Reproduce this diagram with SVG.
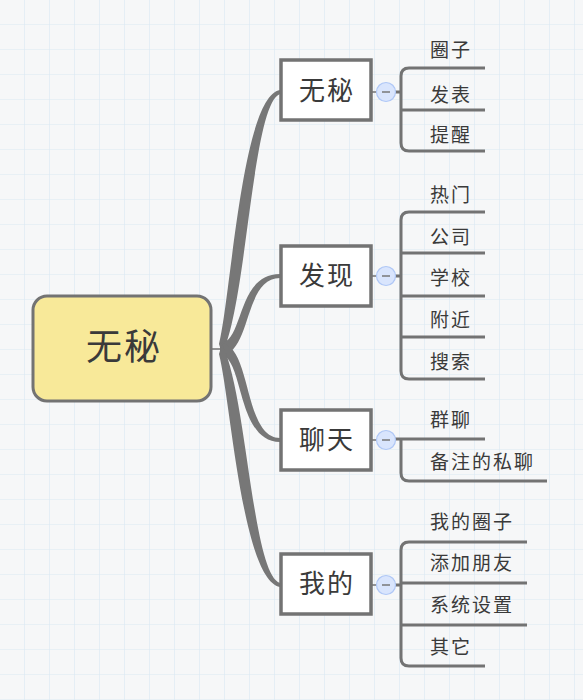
<svg xmlns="http://www.w3.org/2000/svg" width="583" height="700" viewBox="0 0 583 700">
<defs>
<pattern id="grid" width="25" height="25" patternUnits="userSpaceOnUse" x="0" y="0">
<rect width="25" height="25" fill="#f6f7f8"/>
<path d="M25,0 V25 M0,25 H25" stroke="#dbe9f3" stroke-width="1.2" fill="none"/>
</pattern>
<style>
.box{fill:#fff;stroke:#737373;stroke-width:3.5}
.root{fill:#f8e999;stroke:#737373;stroke-width:3}
.t{font-family:"Noto Sans CJK SC","Noto Sans",sans-serif;fill:#3a3a3a}
.bt{font-size:26px;letter-spacing:2px;text-anchor:middle}
.ct{font-size:19px;letter-spacing:2px}
.ln{fill:none;stroke:#737373;stroke-width:3}
.thin{fill:none;stroke:#737373;stroke-width:1.5}
.br{fill:#777}
.col{fill:#d9e5fd;stroke:#afc7f6;stroke-width:1.2}
.minus{stroke:#777;stroke-width:1.5}
</style>
</defs>
<rect width="583" height="700" fill="url(#grid)"/>

<g id="connectors">
<path class="thin" d="M212,349 H224"/>
<path class="br" d="M219,344 C231,296 242,96 280,90 L280,94 C252,104 247,304 222,354 Z"/>
<path class="br" d="M220,343 C244,343 236,274 280,274 L280,278 C243,278 252,355 220,355 Z"/>
<path class="br" d="M220,343 C252,343 243,438 280,438 L280,442 C236,442 244,355 220,355 Z"/>
<path class="br" d="M222,344 C247,394 252,574 280,583 L280,587 C242,579 231,402 219,354 Z"/>
<path class="thin" d="M372,92 H386 M372,276 H386 M372,440 H386 M372,585 H386"/>
<path class="ln" d="M395,92 H401"/>
<path class="ln" d="M485,68 H409 Q401,68 401,76 V143 Q401,151 409,151 H485 M401,110 H485"/>
<path class="ln" d="M395,276 H401"/>
<path class="ln" d="M485,212 H409 Q401,212 401,220 V371 Q401,379 409,379 H485 M401,253 H485 M401,296 H485 M401,337 H485"/>
<path class="ln" d="M395,439 H485 M401,439 V473 Q401,481 409,481 H547"/>
<path class="ln" d="M395,585 H401"/>
<path class="ln" d="M527,542 H409 Q401,542 401,550 V658 Q401,666 409,666 H485 M401,583 H527 M401,625 H527"/>
</g>

<g id="root">
<rect class="root" x="33" y="296" width="178" height="105" rx="14"/>
<text class="t" x="124" y="360" font-size="36" letter-spacing="2" text-anchor="middle">无秘</text>
</g>

<g id="n-wumi">
<rect class="box" x="281" y="60" width="90" height="60"/>
<text class="t bt" x="327" y="100">无秘</text>
<circle class="col" cx="386" cy="92" r="9.5"/><path class="minus" d="M382,92 H390"/>
<text class="t ct" x="430" y="57">圈子</text>
<text class="t ct" x="430" y="102">发表</text>
<text class="t ct" x="430" y="142">提醒</text>
</g>

<g id="n-faxian">
<rect class="box" x="281" y="246" width="90" height="60"/>
<text class="t bt" x="327" y="285">发现</text>
<circle class="col" cx="386" cy="276" r="9.5"/><path class="minus" d="M382,276 H390"/>
<text class="t ct" x="430" y="202">热门</text>
<text class="t ct" x="430" y="244">公司</text>
<text class="t ct" x="430" y="285">学校</text>
<text class="t ct" x="430" y="327">附近</text>
<text class="t ct" x="430" y="369">搜索</text>
</g>

<g id="n-liaotian">
<rect class="box" x="281" y="410" width="90" height="60"/>
<text class="t bt" x="327" y="449">聊天</text>
<circle class="col" cx="386" cy="440" r="9.5"/><path class="minus" d="M382,440 H390"/>
<text class="t ct" x="430" y="427">群聊</text>
<text class="t ct" x="430" y="469">备注的私聊</text>
</g>

<g id="n-wode">
<rect class="box" x="281" y="554" width="90" height="60"/>
<text class="t bt" x="327" y="593">我的</text>
<circle class="col" cx="386" cy="585" r="9.5"/><path class="minus" d="M382,585 H390"/>
<text class="t ct" x="430" y="529">我的圈子</text>
<text class="t ct" x="430" y="570">添加朋友</text>
<text class="t ct" x="430" y="612">系统设置</text>
<text class="t ct" x="430" y="654">其它</text>
</g>
</svg>
